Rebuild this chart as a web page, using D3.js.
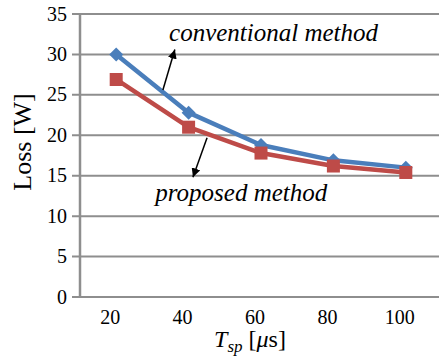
<!DOCTYPE html>
<html>
<head>
<meta charset="utf-8">
<script src="https://cdn.jsdelivr.net/npm/d3@7"></script>
<style>
  body { margin: 0; background: #fff; }
  text { font-family: "Liberation Serif", "Times New Roman", serif; fill: #000; }
</style>
</head>
<body>
<div id="chart"></div>
<script>
// data
let categories = ["20", "40", "60", "80", "100"];
let conventional = [30.0, 22.8, 18.8, 16.9, 16.0];
let proposed = [26.9, 21.0, 17.8, 16.2, 15.4];
let yTicks = [0, 5, 10, 15, 20, 25, 30, 35];

let W = 439, H = 360;
let margin = { top: 14, right: -3, bottom: 63, left: 80 };

let svg = d3.select("#chart").append("svg")
  .attr("width", W)
  .attr("height", H);

let x = d3.scaleBand().domain(categories)
  .range([margin.left, W - margin.right]).padding(0);
let y = d3.scaleLinear().domain([0, 35]).range([H - margin.bottom, margin.top]);
// helper for placing annotations in data units along x
let xv = d3.scaleLinear().domain([10, 110]).range([margin.left, W - margin.right]);

// gridlines
svg.append("g")
  .selectAll("line")
  .data(yTicks)
  .join("line")
  .attr("x1", margin.left - 8)
  .attr("x2", W)
  .attr("y1", d => y(d))
  .attr("y2", d => y(d))
  .attr("stroke", "#8e8e8e")
  .attr("stroke-width", 2);

// y axis line
svg.append("line")
  .attr("x1", margin.left).attr("x2", margin.left)
  .attr("y1", y(35)).attr("y2", y(0) + 1)
  .attr("stroke", "#8e8e8e")
  .attr("stroke-width", 2.5);

// y tick labels
svg.append("g")
  .selectAll("text")
  .data(yTicks)
  .join("text")
  .attr("x", margin.left - 13)
  .attr("y", d => y(d))
  .attr("dy", "0.33em")
  .attr("text-anchor", "end")
  .style("font-size", "20px")
  .text(d => d);

// x tick labels
svg.append("g")
  .selectAll("text")
  .data(categories)
  .join("text")
  .attr("x", d => x(d) + x.bandwidth() / 2 - 6)
  .attr("y", y(0) + 27)
  .attr("text-anchor", "middle")
  .style("font-size", "20px")
  .text(d => d);

// axis titles
svg.append("text")
  .attr("transform", "translate(31," + 142 + ") rotate(-90)")
  .attr("text-anchor", "middle")
  .style("font-size", "26px")
  .text("Loss [W]");

let xt = svg.append("text")
  .attr("x", 250)
  .attr("y", 347)
  .attr("text-anchor", "middle")
  .style("font-size", "24px");
xt.append("tspan").style("font-style", "italic").text("T");
xt.append("tspan").style("font-style", "italic").style("font-size", "17px").attr("dy", 5).text("sp");
xt.append("tspan").attr("dy", -5).text(" [");
xt.append("tspan").style("font-style", "italic").text("μ");
xt.append("tspan").text("s]");

// series lines
let line = d3.line()
  .x((d, i) => x(categories[i]) + x.bandwidth() / 2)
  .y(d => y(d));

let blue = "#4a7ebb", red = "#be4b48";

svg.append("path")
  .datum(conventional)
  .attr("fill", "none")
  .attr("stroke", blue)
  .attr("stroke-width", 4.5)
  .attr("stroke-linejoin", "round")
  .attr("d", line);

svg.append("path")
  .datum(proposed)
  .attr("fill", "none")
  .attr("stroke", red)
  .attr("stroke-width", 4.5)
  .attr("stroke-linejoin", "round")
  .attr("d", line);

// markers
svg.append("g")
  .selectAll("path")
  .data(conventional)
  .join("path")
  .attr("transform", (d, i) => "translate(" + (x(categories[i]) + x.bandwidth() / 2) + "," + y(d) + ")")
  .attr("d", "M0,-7L7,0L0,7L-7,0Z")
  .attr("fill", blue);

svg.append("g")
  .selectAll("rect")
  .data(proposed)
  .join("rect")
  .attr("x", (d, i) => x(categories[i]) + x.bandwidth() / 2 - 6.5)
  .attr("y", d => y(d) - 6.5)
  .attr("width", 13)
  .attr("height", 13)
  .attr("fill", red);

// annotations
let defs = svg.append("defs");
defs.append("marker")
  .attr("id", "head")
  .attr("viewBox", "0 0 10 10")
  .attr("refX", 10).attr("refY", 5)
  .attr("markerWidth", 9).attr("markerHeight", 9)
  .attr("markerUnits", "userSpaceOnUse")
  .attr("orient", "auto")
  .append("path")
  .attr("d", "M0,0L10,5L0,10Z")
  .attr("fill", "#000");

let arrows = [
  { x1: 32.9, y1: 25.6, x2: 36.2, y2: 30.6 },
  { x1: 45.1, y1: 19.7, x2: 41.2, y2: 14.8 }
];
svg.append("g")
  .selectAll("line")
  .data(arrows)
  .join("line")
  .attr("x1", d => xv(d.x1)).attr("y1", d => y(d.y1))
  .attr("x2", d => xv(d.x2)).attr("y2", d => y(d.y2))
  .attr("stroke", "#000")
  .attr("stroke-width", 1.5)
  .attr("marker-end", "url(#head)");

svg.append("text")
  .attr("x", xv(34.6)).attr("y", y(31.7))
  .style("font-size", "25px")
  .style("font-style", "italic")
  .text("conventional method");

svg.append("text")
  .attr("x", xv(30.8)).attr("y", y(11.9))
  .style("font-size", "25px")
  .style("font-style", "italic")
  .text("proposed method");
</script>
</body>
</html>
